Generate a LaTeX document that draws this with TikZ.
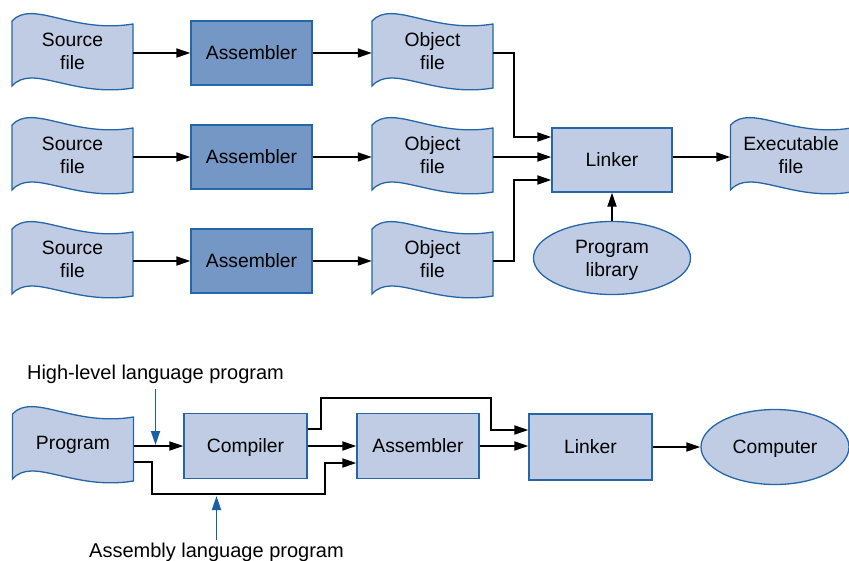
\documentclass[tikz,border=0pt]{standalone}
\usepackage{fontspec}
\setmainfont{Liberation Sans}
\usetikzlibrary{arrows.meta,shapes.geometric}

\definecolor{boxfill}{RGB}{191,204,228}
\definecolor{asmfill}{RGB}{116,151,197}
\definecolor{edge}{RGB}{37,102,168}
\definecolor{callout}{RGB}{25,95,165}

% wavy "document" outline centred on a coordinate (units: 1pt, y downwards)
\newcommand\docoutline[1]{%
  \path[draw=edge,line width=1.3pt,fill=boxfill,shift={(#1)}]
    (-60.5,-32) .. controls (-40,-54) and (0,-19) .. (60.5,-29)
    -- (60.5,35) .. controls (0,45) and (-40,10) .. (-60.5,33) -- cycle;}

\tikzset{
  lbl/.style={font=\fontsize{19.3}{23}\selectfont, align=center, text=black},
  docnode/.style={lbl, minimum width=121pt, minimum height=60pt, inner sep=0pt, text depth=4pt},
  proc/.style={lbl, draw=edge, line width=1.3pt, fill=boxfill, text depth=0pt,
               minimum width=121pt, minimum height=64pt, inner sep=0pt},
  asmproc/.style={proc, fill=asmfill},
  oval/.style={lbl, ellipse, draw=edge, line width=1.3pt, fill=boxfill, inner sep=0pt, text depth=0pt},
  caption/.style={lbl, font=\fontsize{20}{24}\selectfont},
  flow/.style={-{Triangle[length=14pt,width=9pt]}, line width=1.8pt, draw=black},
  note/.style={-{Triangle[length=14pt,width=9pt]}, line width=1.8pt, draw=callout, color=callout},
}

\begin{document}
\begin{tikzpicture}[x=1pt,y=-1pt]
\useasboundingbox (0,0) rectangle (849,560);

% ---------- separate assembly and linking ----------
\foreach \r/\y in {1/53,2/157,3/261}{
  \coordinate (s\r) at (72.5,\y);
  \docoutline{s\r}
  \node[docnode] (src\r) at (s\r) {Source\\file};
  \node[asmproc] (asm\r) at (251.5,\y) {Assembler};
  \coordinate (o\r) at (432.5,\y);
  \docoutline{o\r}
  \node[docnode] (obj\r) at (o\r) {Object\\file};
  \draw[flow] (src\r.east) -- (src\r.east -| asm\r.west);
  \draw[flow] (asm\r.east) -- (asm\r.east -| obj\r.west);
}

\node[proc, minimum width=120pt] (lnk) at (612,160) {Linker};
\coordinate (ex) at (791,157);
\docoutline{ex}
\node[docnode] (exe) at (ex) {Executable\\file};
\node[oval, minimum width=157pt, minimum height=73pt] (lib) at (612,258) {Program\\library};

\draw[flow] (obj1.east) -| ([xshift=-37pt,yshift=23pt]lnk.west) -- ([yshift=23pt]lnk.west);
\draw[flow] (obj2.east) -- (obj2.east -| lnk.west);
\draw[flow] (obj3.east) -| ([xshift=-37pt,yshift=-20pt]lnk.west) -- ([yshift=-20pt]lnk.west);
\draw[flow] (exe.west -| lnk.east) -- (exe.west);
\draw[flow] (lib.north) -- (lnk.south);

% ---------- compile, assemble, link ----------
\coordinate (pg) at (73,446);
\docoutline{pg}
\node[docnode, text depth=6pt] (prog) at (pg) {Program};
\node[proc, minimum width=123pt, minimum height=65pt] (comp) at (245.5,446) {Compiler};
\node[proc, minimum width=122pt, minimum height=65pt] (asmb) at (418,446) {Assembler};
\node[proc, minimum width=123pt, minimum height=66pt] (lnk2) at (590.5,447) {Linker};
\node[oval, minimum width=148pt, minimum height=75pt] (cpu) at (775,447) {Computer};

\draw[flow] (prog.east) -- (comp.west);
\draw[flow] (comp.east) -- (asmb.west);
\draw[flow] ([yshift=17pt]comp.east) -- ++(13,0) -- ++(0,-31)
  -| ([xshift=-37pt,yshift=17pt]lnk2.west) -- ([yshift=17pt]lnk2.west);
\draw[flow] (asmb.east) -- (asmb.east -| lnk2.west);
\draw[flow] (lnk2.east) -- (cpu.west);
\draw[flow] ([yshift=-16pt]prog.east) -- ++(18,0) -- ++(0,32)
  -| ([xshift=-31pt,yshift=-17pt]asmb.west) -- ([yshift=-17pt]asmb.west);

\node[caption] (hl) at (155.5,374) {High-level language program};
\coordinate (hltip) at (155.5,445);
\draw[note] ([yshift=-2pt]hl.south) -- (hltip);

\node[caption] (al) at (216.5,552) {Assembly language program};
\coordinate (altip) at (216.5,496);
\draw[note] ([yshift=-1pt]al.north) -- (altip);
\end{tikzpicture}
\end{document}
